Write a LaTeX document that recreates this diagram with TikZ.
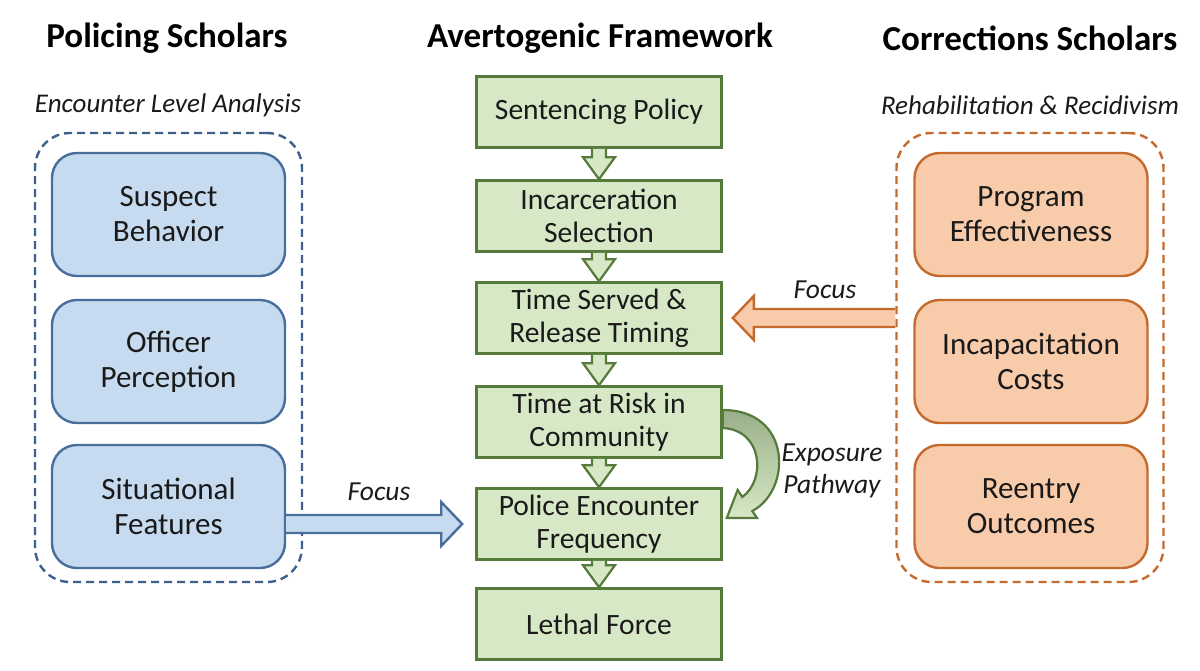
\documentclass[tikz,border=0pt]{standalone}
\usepackage{fontspec}
\setmainfont{Carlito}
\usetikzlibrary{calc}
\definecolor{gfill}{HTML}{D6E8C6}
\definecolor{gline}{HTML}{557A3A}
\definecolor{bfill}{HTML}{C6DBEF}
\definecolor{bline}{HTML}{4A6E9C}
\definecolor{bdash}{HTML}{3F5F8C}
\definecolor{ofill}{HTML}{F8CBAA}
\definecolor{oline}{HTML}{C56A2D}
\definecolor{txt}{HTML}{1A1A1A}
\tikzset{
  gbox/.style={rectangle, draw=gline, fill=gfill, line width=2.6pt, minimum width=245pt, minimum height=71pt, inner sep=0pt, align=center, text=txt, font=\fontsize{29.5}{33}\selectfont},
  bbox/.style={rectangle, rounded corners=25pt, draw=bline, fill=bfill, line width=2.4pt, minimum width=233pt, minimum height=123pt, inner sep=0pt, align=center, text=txt, font=\fontsize{31}{35}\selectfont},
  obox/.style={bbox, draw=oline, fill=ofill},
  cont/.style={rectangle, rounded corners=35pt, dashed, dash pattern=on 8pt off 5pt, line width=2.4pt, minimum width=267pt, minimum height=449pt, inner sep=0pt},
  title/.style={font=\bfseries\fontsize{35}{40}\selectfont, text=black},
  subt/.style={font=\itshape\fontsize{27}{30}\selectfont, text=txt},
  lbl/.style={font=\itshape\fontsize{27.5}{32}\selectfont, text=txt, align=center},
  garrow/.style={draw=gline, fill=gfill, line width=2.2pt, line join=miter},
  barrow/.style={draw=bline, fill=bfill, line width=2.4pt, line join=miter},
  oarrow/.style={draw=oline, fill=ofill, line width=2.4pt, line join=miter},
}
\begin{document}
\begin{tikzpicture}[x=1pt,y=-1pt]
\useasboundingbox[fill=white] (0,0) rectangle (1200,670);
% titles
\node[title] (t1) at (167,38) {Policing Scholars};
\node[title] (t2) at (600,38) {Avertogenic Framework};
\node[title] (t3) at (1030,38) {Corrections Scholars};
\node[subt] (s1) at (168,105) {Encounter Level Analysis};
\node[subt] (s3) at (1030,105) {Rehabilitation \& Recidivism};
% containers
\node[cont, draw=bdash] (lcont) at (168.5,357.5) {};
\node[cont, draw=oline] (rcont) at (1030,357.5) {};
% left boxes
\node[bbox] (sus) at (168.5,214.5) {Suspect\\Behavior};
\node[bbox] (off) at (168.5,361.5) {Officer\\Perception};
\node[bbox] (sit) at (168.5,506.5) {Situational\\Features};
% right boxes
\node[obox] (prog) at (1031,214.5) {Program\\Effectiveness};
\node[obox] (inc) at (1031,361.5) {Incapacitation\\Costs};
\node[obox] (reen) at (1031,506.5) {Reentry\\Outcomes};
% center boxes
\node[gbox] (sen) at (599,112) {Sentencing Policy};
\node[gbox] (incs) at (599,216) {Incarceration\\Selection};
\node[gbox] (ts) at (599,318) {Time Served \&\\Release Timing};
\node[gbox] (risk) at (599,422) {Time at Risk in\\Community};
\node[gbox] (pol) at (599,524) {Police Encounter\\Frequency};
\node[gbox] (let) at (599,624) {Lethal Force};
% green block arrows
\foreach \a/\b in {sen/incs, incs/ts, ts/risk, risk/pol, pol/let}{
  \draw[garrow] ($(\a.south)+(-7,0)$) -- ($(\b.north)+(-7,-22)$) -- ($(\b.north)+(-16,-22)$) -- (\b.north) -- ($(\b.north)+(16,-22)$) -- ($(\b.north)+(7,-22)$) -- ($(\a.south)+(7,0)$);
}
% blue focus arrow
\coordinate (bs) at (sit.east |- pol.west);
\coordinate (bt) at ($(pol.west)+(-13,0)$);
\draw[barrow] ($(bs)+(0,-9)$) -- ($(bt)+(-21,-9)$) -- ($(bt)+(-21,-22)$) -- (bt) -- ($(bt)+(-21,22)$) -- ($(bt)+(-21,9)$) -- ($(bs)+(0,9)$);
\node[lbl] (f1) at (379,492) {Focus};
% orange focus arrow
\coordinate (os) at (rcont.west |- ts.east);
\coordinate (ot) at ($(ts.east)+(10,0)$);
\draw[oarrow] ($(os)+(0,-9)$) -- ($(ot)+(21,-9)$) -- ($(ot)+(21,-22)$) -- (ot) -- ($(ot)+(21,22)$) -- ($(ot)+(21,9)$) -- ($(os)+(0,9)$);
\node[lbl] (f2) at (825,290) {Focus};
% exposure pathway curved arrow
\path[draw=gline, line width=2.2pt, line join=miter, top color=gline!60!white, bottom color=gfill]
  ($(risk.east)+(0,-12)$) .. controls (792,410) and (792,490) .. ($(pol.east)+(29.5,-13)$)
  -- ($(pol.east)+(34.2,-6)$) -- ($(pol.east)+(4,-6)$) -- ($(pol.east)+(14.8,-34)$)
  -- ($(pol.east)+(19.5,-27)$) .. controls (766,480) and (763,430) .. ($(risk.east)+(0,6)$) -- cycle;
\node[lbl] (ep) at (832,471) {Exposure\\Pathway};
\end{tikzpicture}
\end{document}
